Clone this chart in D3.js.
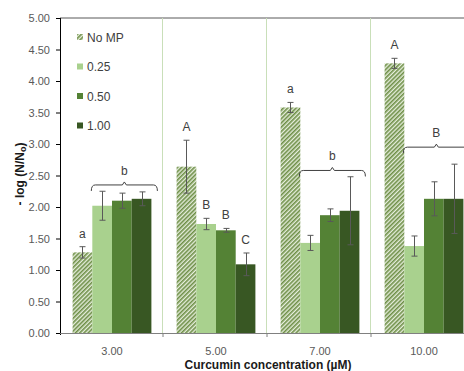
<!DOCTYPE html>
<html lang="en">
<head>
<meta charset="UTF-8">
<title>Curcumin concentration</title>
<script src="https://d3js.org/d3.v7.min.js"></script>
<style>
    body { margin: 0; background: #fff; }
    svg { font-family: "Liberation Sans", Arial, sans-serif; display: block; }
    .tick text { fill: #595959; font-size: 11px; }
    .letter { fill: #404040; font-size: 12px; text-anchor: middle; }
    .title { font-weight: bold; font-size: 12px; fill: #1a1a1a; text-anchor: middle; }
</style>
</head>
<body>
<svg width="464" height="371"></svg>
<script>
// concentrations on the x axis
const categories = ["3.00", "5.00", "7.00", "10.00"];
const series = ["No MP", "0.25", "0.50", "1.00"];
const colors = ["url(#hatch)", "#a9d18e", "#548235", "#385723"];

// mean values, one array per series (same order as categories)
const noMP   = [1.28, 2.64, 3.58, 4.28];
const mp025  = [2.02, 1.73, 1.43, 1.38];
const mp050  = [2.10, 1.63, 1.87, 2.13];
const mp100  = [2.13, 1.09, 1.94, 2.13];

// error (+/-)
const errNoMP  = [0.09, 0.42, 0.08, 0.08];
const err025   = [0.23, 0.09, 0.12, 0.16];
const err050   = [0.12, 0.03, 0.10, 0.27];
const err100   = [0.11, 0.18, 0.54, 0.55];

// significance letters above single bars: [category, series, text]
const letters = [
    ["3.00", 0, "a"],
    ["5.00", 0, "A"], ["5.00", 1, "B"], ["5.00", 2, "B"], ["5.00", 3, "C"],
    ["7.00", 0, "a"],
    ["10.00", 0, "A"]
];
// brackets over the MP bars: [category, level, text]
const brackets = [
    ["3.00", 2.35, "b"],
    ["7.00", 2.58, "b"],
    ["10.00", 2.95, "B"]
];

const yTicks = d3.range(0, 5.01, 0.5);

const values = [noMP, mp025, mp050, mp100];
const errors = [errNoMP, err025, err050, err100];

const svg = d3.select("svg");
const plotLeft = 60, plotTop = 18, plotBottom = 333;

const x = d3.scaleBand().domain(categories).range([plotLeft, plotLeft + 416]).padding(0);
const xi = d3.scaleBand().domain(d3.range(series.length)).range([0, x.bandwidth()])
    .paddingInner(0).paddingOuter(0.64);
const y = d3.scaleLinear().domain([0, 5]).range([plotBottom, plotTop]);

// hatch pattern for "No MP"
const defs = svg.append("defs");
const pat = defs.append("pattern").attr("id", "hatch")
    .attr("patternUnits", "userSpaceOnUse").attr("width", 3).attr("height", 3)
    .attr("patternTransform", "rotate(45)");
pat.append("rect").attr("width", 3).attr("height", 3).attr("fill", "#e6eedc");
pat.append("rect").attr("width", 1.6).attr("height", 3).attr("fill", "#6e8f47");

// top border
svg.append("line")
    .attr("x1", plotLeft).attr("x2", 464).attr("y1", plotTop).attr("y2", plotTop)
    .attr("stroke", "#595959").attr("stroke-width", 1);

// vertical separators between categories
svg.selectAll(".sep").data(categories.slice(1)).join("line")
    .attr("class", "sep")
    .attr("x1", d => x(d) - 1.5).attr("x2", d => x(d) - 1.5)
    .attr("y1", plotTop).attr("y2", plotBottom)
    .attr("stroke", "#c9dfb9").attr("stroke-width", 1);

// bars
const flat = [];
categories.forEach((c, ci) => series.forEach((s, si) => {
    flat.push({cat: c, si: si, v: values[si][ci], e: errors[si][ci]});
}));

svg.append("g").selectAll("rect").data(flat).join("rect")
    .attr("x", d => x(d.cat) + xi(d.si))
    .attr("width", xi.bandwidth())
    .attr("y", d => y(d.v))
    .attr("height", d => y(0) - y(d.v))
    .attr("fill", d => colors[d.si]);

// error bars
const eb = svg.append("g").attr("stroke", "#595959").attr("stroke-width", 1);
flat.forEach(d => {
    const cx = Math.round(x(d.cat) + xi(d.si) + xi.bandwidth() / 2) + 0.5;
    const y1 = y(d.v + d.e), y2 = y(d.v - d.e);
    eb.append("line").attr("x1", cx).attr("x2", cx).attr("y1", y1).attr("y2", y2);
    eb.append("line").attr("x1", cx - 3).attr("x2", cx + 3).attr("y1", y1).attr("y2", y1);
    eb.append("line").attr("x1", cx - 3).attr("x2", cx + 3).attr("y1", y2).attr("y2", y2);
});

// letters over bars
svg.append("g").selectAll("text").data(letters).join("text")
    .attr("class", "letter")
    .attr("x", d => x(d[0]) + xi(d[1]) + xi.bandwidth() / 2)
    .attr("y", d => {
        const ci = categories.indexOf(d[0]);
        return y(values[d[1]][ci] + errors[d[1]][ci]) - 9;
    })
    .text(d => d[2]);

// brackets
const bg = svg.append("g");
brackets.forEach(b => {
    const x1 = x(b[0]) + xi(1) - 1;
    const x2 = x(b[0]) + xi(3) + xi.bandwidth() + 6;
    const yy = y(b[1]);
    const m = (x1 + x2) / 2;
    bg.append("path")
        .attr("d", `M${x1},${yy + 6} Q${x1},${yy} ${x1 + 4},${yy} L${m - 2},${yy} L${m},${yy - 3} L${m + 2},${yy} L${x2 - 4},${yy} Q${x2},${yy} ${x2},${yy + 6}`)
        .attr("fill", "none").attr("stroke", "#404040").attr("stroke-width", 1);
    bg.append("text").attr("class", "letter")
        .attr("x", m).attr("y", yy - 10).text(b[2]);
});

// y axis
const yAxis = svg.append("g").attr("transform", `translate(${plotLeft},0)`)
    .call(d3.axisLeft(y).tickValues(yTicks).tickFormat(d3.format(".2f")).tickSizeOuter(0).tickSize(4).tickPadding(6));
yAxis.select(".domain").attr("stroke", "#000").attr("d", `M0.5,${plotTop}V${plotBottom + 2}`);
yAxis.selectAll(".tick line").attr("stroke", "#000");

// x axis
const xAxis = svg.append("g").attr("transform", `translate(0,${plotBottom})`)
    .call(d3.axisBottom(x).tickSize(0).tickPadding(14));
xAxis.select(".domain").attr("stroke", "#808080").attr("d", `M${plotLeft},0.5H464`);
xAxis.selectAll(".sepTick").data(categories.slice(1)).join("line")
    .attr("class", "sepTick")
    .attr("x1", d => x(d) - 1).attr("x2", d => x(d) - 1)
    .attr("y1", 0).attr("y2", 4)
    .attr("stroke", "#808080");

// legend
const lg = svg.append("g");
series.forEach((s, i) => {
    const ly = 37 + i * 29.5;
    lg.append("rect").attr("x", 77).attr("y", ly - 3).attr("width", 6).attr("height", 6)
        .attr("fill", colors[i]);
    lg.append("text").attr("x", 87).attr("y", ly + 4.5)
        .attr("font-size", 12).attr("fill", "#404040").text(s);
});

// axis titles
svg.append("text").attr("class", "title")
    .attr("x", 268).attr("y", 369).text("Curcumin concentration (µM)");
svg.append("text").attr("class", "title")
    .attr("transform", "translate(24,174) rotate(-90)")
    .html('- log (N/N<tspan font-size="9" dy="2">o</tspan><tspan dy="-2">)</tspan>');
</script>
</body>
</html>
